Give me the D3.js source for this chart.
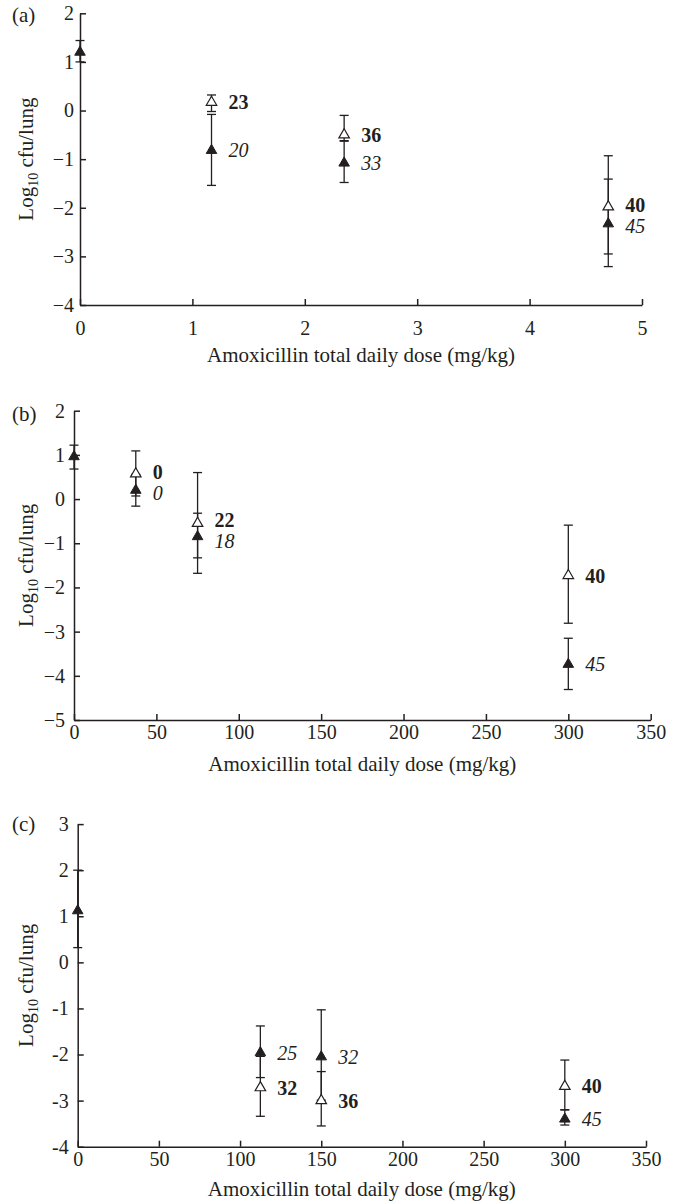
<!DOCTYPE html>
<html>
<head>
<meta charset="utf-8">
<script src="https://cdn.jsdelivr.net/npm/d3@7"></script>
<style>
  body { margin: 0; background: #fff; }
  svg text { font-family: "Liberation Serif", "Times New Roman", serif; fill: #231f20; }
</style>
</head>
<body>
<svg id="chart" width="683" height="1203"></svg>
<script>
// ---- panel (a) ----
const filledDoseA = [0, 1.17, 2.35, 4.7];
const filledMeanA = [1.2, -0.82, -1.08, -2.33];
const filledHiA = [1.44, -0.08, -0.63, -1.41];
const filledLoA = [1.0, -1.54, -1.48, -3.21];
const filledLabelA = ["", "20", "33", "45"];
const openDoseA = [1.17, 2.35, 4.7];
const openMeanA = [0.17, -0.5, -1.98];
const openHiA = [0.32, -0.1, -0.93];
const openLoA = [-0.02, -0.62, -2.95];
const openLabelA = ["23", "36", "40"];
const xTicksA = [0, 1, 2, 3, 4, 5];
const yTicksA = [-4, -3, -2, -1, 0, 1, 2];

// ---- panel (b) ----
const filledDoseB = [0, 37.5, 75, 300];
const filledMeanB = [0.96, 0.2, -0.85, -3.74];
const filledHiB = [1.22, 0.56, -0.32, -3.15];
const filledLoB = [0.68, -0.16, -1.33, -4.31];
const filledLabelB = ["", "0", "18", "45"];
const openDoseB = [37.5, 75, 300];
const openMeanB = [0.57, -0.55, -1.73];
const openHiB = [1.09, 0.6, -0.59];
const openLoB = [0.07, -1.68, -2.81];
const openLabelB = ["0", "22", "40"];
const xTicksB = [0, 50, 100, 150, 200, 250, 300, 350];
const yTicksB = [-5, -4, -3, -2, -1, 0, 1, 2];

// ---- panel (c) ----
const filledDoseC = [0, 112.5, 150, 300];
const filledMeanC = [1.12, -1.96, -2.05, -3.4];
const filledHiC = [2.0, -1.38, -1.03, -3.2];
const filledLoC = [0.32, -2.5, -2.99, -3.53];
const filledLabelC = ["", "25", "32", "45"];
const openDoseC = [112.5, 150, 300];
const openMeanC = [-2.72, -3.0, -2.69];
const openHiC = [-2.04, -2.37, -2.12];
const openLoC = [-3.34, -3.55, -3.2];
const openLabelC = ["32", "36", "40"];
const xTicksC = [0, 50, 100, 150, 200, 250, 300, 350];
const yTicksC = [-4, -3, -2, -1, 0, 1, 2, 3];

const ink = "#231f20";
const svg = d3.select("#chart");

function series(dose, mean, hi, lo, label) {
  return dose.map((d, i) => ({dose: d, mean: mean[i], hi: hi[i], lo: lo[i], label: label[i]}));
}

function drawPanel(p) {
  const g = svg.append("g");
  const x = d3.scaleLinear().domain(p.xDomain).range(p.xRange);
  const y = d3.scaleLinear().domain(p.yDomain).range(p.yRange);
  const minus = p.hyphen ? "-" : "\u2212";

  g.append("g")
    .attr("transform", "translate(0," + p.yRange[0] + ")")
    .call(d3.axisBottom(x).tickValues(p.xTicks).tickSizeInner(-6).tickSizeOuter(0)
      .tickPadding(p.xPad).tickFormat(d3.format("d")))
    .call(a => a.selectAll("text").attr("font-size", 20).attr("font-family", null).attr("fill", ink));

  g.append("g")
    .attr("transform", "translate(" + p.xRange[0] + ",0)")
    .call(d3.axisLeft(y).tickValues(p.yTicks).tickSizeInner(-6).tickSizeOuter(0)
      .tickPadding(p.yPad).tickFormat(d => (d < 0 ? minus : "") + Math.abs(d)))
    .call(a => a.selectAll("text").attr("font-size", 20).attr("font-family", null).attr("fill", ink));

  g.selectAll(".domain, .tick line").attr("stroke", ink).attr("stroke-width", 1.5);

  // axis titles
  g.append("text")
    .attr("x", (p.xRange[0] + p.xRange[1]) / 2)
    .attr("y", p.titleY)
    .attr("text-anchor", "middle")
    .attr("font-size", 21)
    .text("Amoxicillin total daily dose (mg/kg)");

  const yt = g.append("text")
    .attr("transform", "translate(33," + (p.yRange[0] + p.yRange[1]) / 2 + ") rotate(-90)")
    .attr("text-anchor", "middle")
    .attr("font-size", 21);
  yt.append("tspan").text("Log");
  yt.append("tspan").attr("font-size", 14).attr("dy", 5).text("10");
  yt.append("tspan").attr("dy", -5).text(" cfu/lung");

  g.append("text")
    .attr("x", 12)
    .attr("y", p.tagY)
    .attr("font-size", 21)
    .text(p.tag);

  const filled = series(p.filled[0], p.filled[1], p.filled[2], p.filled[3], p.filled[4]);
  const open = series(p.open[0], p.open[1], p.open[2], p.open[3], p.open[4]);
  const all = filled.concat(open);

  // error bars
  const eb = g.append("g").attr("stroke", ink).attr("stroke-width", 1.3);
  eb.selectAll("line.v").data(all).enter().append("line")
    .attr("x1", d => x(d.dose)).attr("x2", d => x(d.dose))
    .attr("y1", d => y(d.hi)).attr("y2", d => y(d.lo));
  ["hi", "lo"].forEach(k => {
    eb.selectAll("line.c" + k).data(all).enter().append("line")
      .attr("x1", d => x(d.dose) - 4.5).attr("x2", d => x(d.dose) + 4.5)
      .attr("y1", d => y(d[k])).attr("y2", d => y(d[k]));
  });

  const tri = d3.symbol().type(d3.symbolTriangle).size(48);
  g.selectAll("path.open").data(open).enter().append("path")
    .attr("d", tri)
    .attr("transform", d => "translate(" + x(d.dose) + "," + y(d.mean) + ")")
    .attr("fill", "#fff").attr("stroke", ink).attr("stroke-width", 1.2);
  g.selectAll("path.filled").data(filled).enter().append("path")
    .attr("d", tri)
    .attr("transform", d => "translate(" + x(d.dose) + "," + y(d.mean) + ")")
    .attr("fill", ink).attr("stroke", ink).attr("stroke-width", 1);

  // n labels next to each pair, pushed apart when they would overlap
  open.forEach(o => {
    const f = filled.find(d => d.dose === o.dose);
    let yo = y(o.mean), yf = f ? y(f.mean) : null;
    if (f && Math.abs(yo - yf) < 21) {
      const mid = (yo + yf) / 2, s = yo < yf ? -1 : 1;
      yo = mid + s * 10.5; yf = mid - s * 10.5;
    }
    g.append("text").attr("x", x(o.dose) + 17).attr("y", yo).attr("dy", "0.35em")
      .attr("font-size", 20).attr("font-weight", "bold").text(o.label);
    if (f && f.label) {
      g.append("text").attr("x", x(f.dose) + 17).attr("y", yf).attr("dy", "0.35em")
        .attr("font-size", 20).attr("font-style", "italic").text(f.label);
    }
  });
}

drawPanel({
  tag: "(a)", tagY: 22, titleY: 362,
  xDomain: [0, 5], xRange: [80, 642], xTicks: xTicksA, xPad: 16,
  yDomain: [-4, 2], yRange: [305, 13.3], yTicks: yTicksA, yPad: 6,
  filled: [filledDoseA, filledMeanA, filledHiA, filledLoA, filledLabelA],
  open: [openDoseA, openMeanA, openHiA, openLoA, openLabelA]
});

drawPanel({
  tag: "(b)", tagY: 421, titleY: 771,
  xDomain: [0, 350], xRange: [74, 650.7], xTicks: xTicksB, xPad: 5,
  yDomain: [-5, 2], yRange: [720, 410.7], yTicks: yTicksB, yPad: 9,
  filled: [filledDoseB, filledMeanB, filledHiB, filledLoB, filledLabelB],
  open: [openDoseB, openMeanB, openHiB, openLoB, openLabelB]
});

drawPanel({
  tag: "(c)", tagY: 831, titleY: 1196, hyphen: true,
  xDomain: [0, 350], xRange: [77.7, 646], xTicks: xTicksC, xPad: 5,
  yDomain: [-4, 3], yRange: [1146.7, 824.1], yTicks: yTicksC, yPad: 9,
  filled: [filledDoseC, filledMeanC, filledHiC, filledLoC, filledLabelC],
  open: [openDoseC, openMeanC, openHiC, openLoC, openLabelC]
});
</script>
</body>
</html>
